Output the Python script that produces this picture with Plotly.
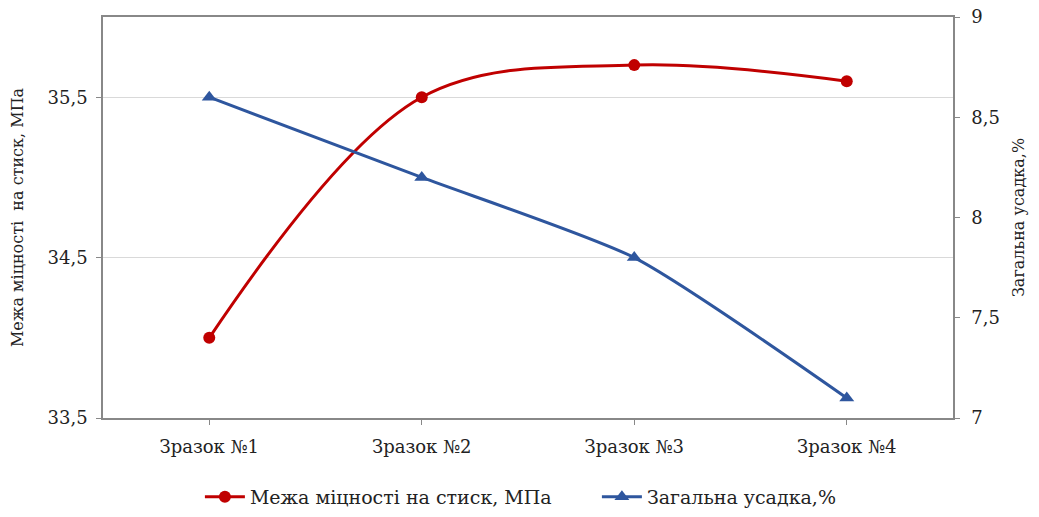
import plotly.graph_objects as go

categories = ["Зразок №1", "Зразок №2", "Зразок №3", "Зразок №4"]
strength = [34.0, 35.5, 35.7, 35.6]
shrinkage = [8.6, 8.2, 7.8, 7.1]
left_ticks = [33.5, 34.5, 35.5]
left_tick_text = ["33,5", "34,5", "35,5"]
right_ticks = [7, 7.5, 8, 8.5, 9]
right_tick_text = ["7", "7,5", "8", "8,5", "9"]

red = "#C00000"
blue = "#2E569E"
font = "DejaVu Serif"

fig = go.Figure()
fig.add_trace(go.Scatter(
    x=categories, y=strength, name="Межа міцності на стиск, МПа",
    mode="lines+markers", line=dict(color=red, width=3, shape="spline", smoothing=1.0),
    marker=dict(symbol="circle", size=12, color=red), yaxis="y"))
fig.add_trace(go.Scatter(
    x=categories, y=shrinkage, name="Загальна усадка,%",
    mode="lines+markers", line=dict(color=blue, width=3, shape="spline", smoothing=0.6),
    marker=dict(symbol="triangle-up", size=13, color=blue), yaxis="y2"))

fig.update_layout(
    width=1039, height=517,
    margin=dict(l=95, r=94, t=9, b=107, autoexpand=False),
    paper_bgcolor="white", plot_bgcolor="white",
    font=dict(family=font, size=18, color="#222"),
    showlegend=True,
    legend=dict(orientation="h", x=0.114, xanchor="left", y=-0.197, yanchor="middle",
                font=dict(size=19), itemwidth=40, tracegroupgap=0,
                entrywidth=342, entrywidthmode="pixels"),
    xaxis=dict(type="category", range=[-0.5, 3.5], showline=True, linecolor="#888",
               linewidth=1.5, mirror=True, ticks="outside", ticklen=5, tickcolor="#888",
               showgrid=False, automargin=False, ticklabelstandoff=7),
    yaxis=dict(range=[33.5, 36.0], tickvals=left_ticks, ticktext=left_tick_text,
               showline=True, linecolor="#888", linewidth=1.5, ticks="outside",
               ticklen=5, tickcolor="#888", showgrid=True, gridcolor="#d9d9d9",
               gridwidth=1, zeroline=False, automargin=False, ticklabelstandoff=5,
               title=dict(text="Межа міцності  на стиск, МПа", font=dict(size=16), standoff=28)),
    yaxis2=dict(range=[7, 9], tickvals=right_ticks, ticktext=right_tick_text,
                overlaying="y", side="right", showline=True, linecolor="#888",
                linewidth=1.5, ticks="outside", ticklen=5, tickcolor="#888",
                showgrid=False, zeroline=False, automargin=False, ticklabelstandoff=8,
                ticklabeloverflow="allow",
                title=dict(text="Загальна усадка,%", font=dict(size=16), standoff=14)),
)

fig.write_html("out.html")
